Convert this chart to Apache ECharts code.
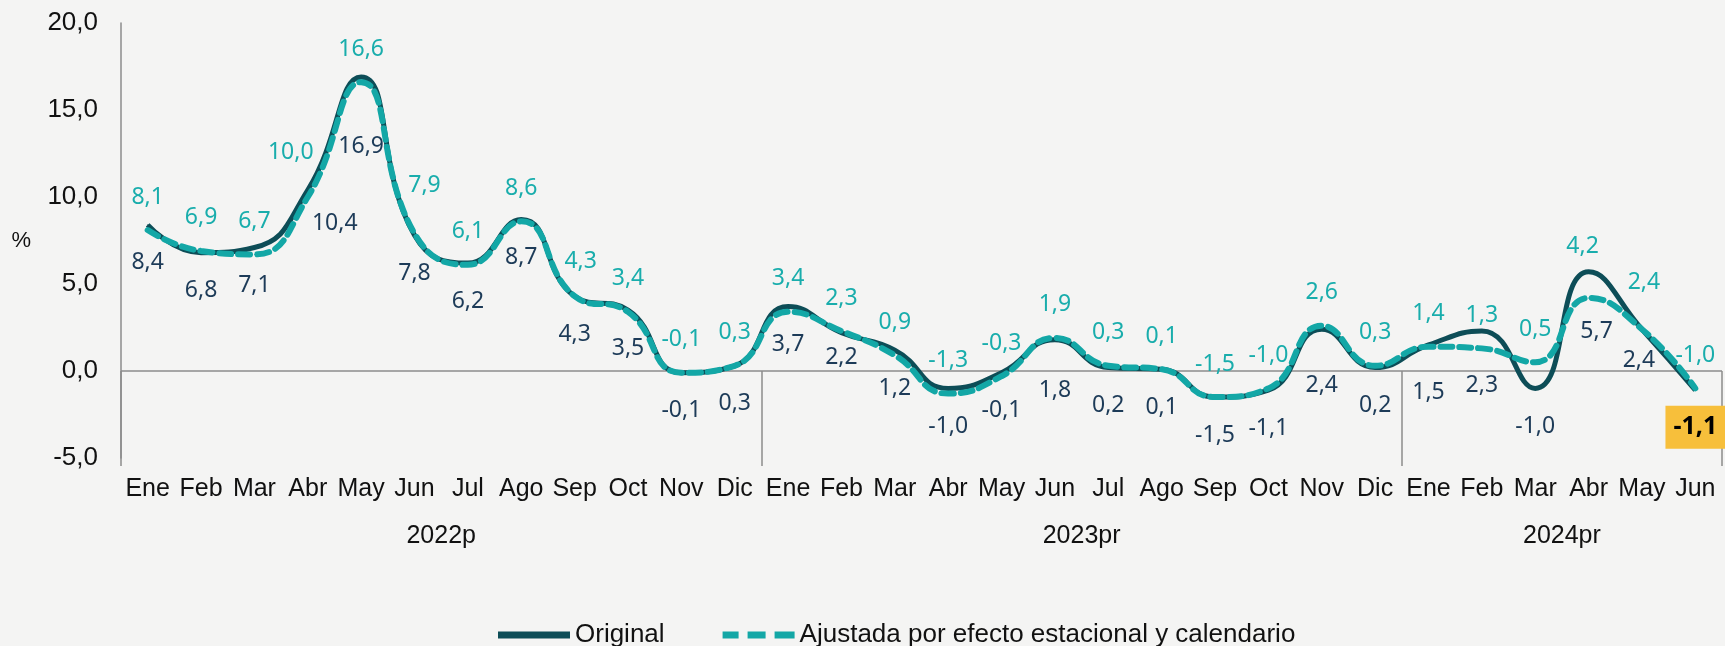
<!DOCTYPE html>
<html>
<head>
<meta charset="utf-8">
<script src="https://cdn.jsdelivr.net/npm/echarts@6/dist/echarts.min.js"></script>
<style>
  html, body { margin: 0; padding: 0; background: #f4f4f3; }
  #chart { width: 1725px; height: 646px; }
</style>
</head>
<body>
<div id="chart"></div>
<script>
// months per year (2024 only up to Jun)
const months = ["Ene", "Feb", "Mar", "Abr", "May", "Jun", "Jul", "Ago", "Sep", "Oct", "Nov", "Dic"];
const years = ["2022p", "2023pr", "2024pr"];
const monthsPerYear = [12, 12, 6];
const categories = [].concat(months, months, months.slice(0, 6));

const original = [
  8.4, 6.8, 7.1, 10.4, 16.9, 7.8, 6.2, 8.7, 4.3, 3.5, -0.1, 0.3,
  3.7, 2.2, 1.2, -1.0, -0.1, 1.8, 0.2, 0.1, -1.5, -1.1, 2.4, 0.2,
  1.5, 2.3, -1.0, 5.7, 2.4, -1.1,
];
const ajustada = [
  8.1, 6.9, 6.7, 10.0, 16.6, 7.9, 6.1, 8.6, 4.3, 3.4, -0.1, 0.3,
  3.4, 2.3, 0.9, -1.3, -0.3, 1.9, 0.3, 0.1, -1.5, -1.0, 2.6, 0.3,
  1.4, 1.3, 0.5, 4.2, 2.4, -1.0,
];

const yTicks = { min: -5, max: 20, interval: 5 };

const DARK = "#0d4d57";
const DARK_TXT = "#1d3b58";
const TEAL = "#13a7a6";
const TEAL_TXT = "#19adac";
const AXIS_GREY = "#8c8c8c";
const LABEL_FONT = "'Noto Sans', sans-serif";
const AXIS_FONT = "'Liberation Sans', Arial, sans-serif";

// label nudges (px) where the default spot would collide
const tealNudge = { 3: [-17, -45], 5: [10, -48], 8: [6, -35], 27: [-6, -51], 28: [2, -47] };
const darkNudge = {
  3: [27, 33], 4: [0, 70], 13: [0, 25], 17: [0, 51], 22: [0, 56],
  24: [0, 48], 25: [0, 54], 27: [8, 60], 28: [-3, 31], 29: [0, 37],
};

const fmt = (v) => v.toFixed(1).replace(".", ",");

// centre of each year block, in category units
const yearCenters = {};
let acc = 0;
monthsPerYear.forEach((n, i) => {
  yearCenters[acc + n / 2] = years[i];
  acc += n;
});

const lastIdx = original.length - 1;

const originalData = original.map((v, i) => {
  const item = { value: v, label: { offset: darkNudge[i] || [0, 38] } };
  if (i === lastIdx) {
    item.label.backgroundColor = "#f7bf3b";
    item.label.color = "#000";
    item.label.fontWeight = "bold";
    item.label.fontSize = 25;
    item.label.lineHeight = 26;
    item.label.padding = [9, 8, 8, 8];
  }
  return item;
});

const ajustadaData = ajustada.map((v, i) => ({
  value: v,
  label: { offset: tealNudge[i] || [0, -33] },
}));

const chart = echarts.init(document.getElementById("chart"));

chart.setOption({
  backgroundColor: "#f4f4f3",
  animation: false,
  grid: { left: 121, right: 0, top: 23, bottom: 188 },
  legend: {
    left: 493,
    top: 617,
    itemWidth: 72,
    itemHeight: 7,
    itemGap: 58,
    textStyle: { fontFamily: AXIS_FONT, fontSize: 26, color: "#111" },
    data: [
      { name: "Original", icon: "path://M0,0h72v7h-72z", itemStyle: { color: DARK } },
      {
        name: "Ajustada por efecto estacional y calendario",
        icon: "path://M0,0h16v7h-16zM25,0h18v7h-18zM52,0h20v7h-20z",
        itemStyle: { color: TEAL },
      },
    ],
  },
  xAxis: [
    {
      type: "category",
      data: categories,
      boundaryGap: true,
      axisLine: { show: false },
      axisTick: {
        show: true,
        length: 95,
        interval: (index) => index % 12 === 0,
        lineStyle: { color: AXIS_GREY, width: 1.5 },
      },
      axisLabel: {
        interval: 0,
        margin: 19,
        fontFamily: AXIS_FONT,
        fontSize: 25,
        color: "#111",
      },
    },
    {
      type: "value",
      position: "bottom",
      min: 0,
      max: categories.length,
      interval: 3,
      axisLine: { show: false },
      axisTick: { show: false },
      splitLine: { show: false },
      axisLabel: {
        margin: 66,
        fontFamily: AXIS_FONT,
        fontSize: 25,
        color: "#111",
        formatter: (v) => yearCenters[v] || "",
      },
    },
  ],
  yAxis: {
    type: "value",
    min: yTicks.min,
    max: yTicks.max,
    interval: yTicks.interval,
    name: "%",
    nameLocation: "middle",
    nameRotate: 0,
    nameGap: 90,
    nameTextStyle: { fontFamily: AXIS_FONT, fontSize: 22, color: "#111", padding: [7, 0, 0, 0] },
    axisLine: { show: true, lineStyle: { color: AXIS_GREY, width: 1.5 } },
    axisTick: { show: false },
    axisLabel: {
      margin: 23,
      fontFamily: AXIS_FONT,
      fontSize: 26,
      color: "#111",
      formatter: fmt,
    },
    splitLine: {
      show: true,
      lineStyle: {
        color: ["transparent", AXIS_GREY, "transparent", "transparent", "transparent", "transparent"],
        width: 1.5,
      },
    },
  },
  series: [
    {
      name: "Original",
      type: "line",
      data: originalData,
      smooth: true,
      symbol: "circle",
      symbolSize: 1,
      itemStyle: { color: DARK },
      lineStyle: { color: DARK, width: 5 },
      label: {
        show: true,
        position: "inside",
        fontFamily: LABEL_FONT,
        fontSize: 23,
        color: DARK_TXT,
        formatter: (p) => fmt(p.value),
      },
      z: 2,
    },
    {
      name: "Ajustada por efecto estacional y calendario",
      type: "line",
      data: ajustadaData,
      smooth: true,
      symbol: "circle",
      symbolSize: 1,
      itemStyle: { color: TEAL },
      lineStyle: { color: TEAL, width: 6, type: [12, 7], cap: "round" },
      label: {
        show: true,
        position: "inside",
        fontFamily: LABEL_FONT,
        fontSize: 23,
        color: TEAL_TXT,
        formatter: (p) => fmt(p.value),
      },
      z: 3,
    },
  ],
});
</script>
</body>
</html>
